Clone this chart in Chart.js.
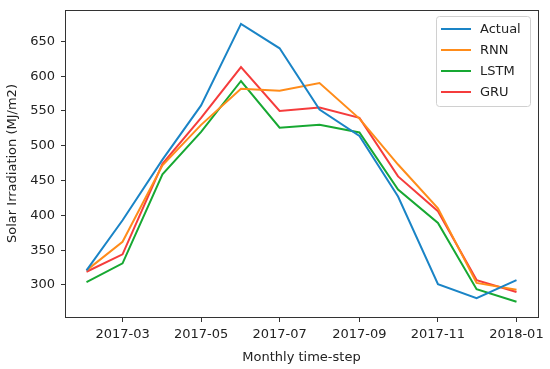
<!DOCTYPE html>
<html>
<head>
<meta charset="utf-8">
<script src="https://cdn.jsdelivr.net/npm/chart.js@4"></script>
<style>
html,body{margin:0;padding:0;background:#fff;}
#wrap{width:550px;height:369px;position:relative;}
</style>
</head>
<body>
<div id="wrap"><canvas id="c" width="550" height="369"></canvas></div>
<script>
const months = ['2017-02-01','2017-03-01','2017-04-01','2017-05-01','2017-06-01','2017-07-01','2017-08-01','2017-09-01','2017-10-01','2017-11-01','2017-12-01','2018-01-01'];
const actual = [321, 393, 480, 558, 675, 640, 552, 514, 427, 301, 281, 307];
const rnn    = [321, 362, 472, 530, 582, 579, 590, 539, 473, 410, 303, 293];
const lstm   = [304, 331, 459, 520, 593, 526, 530, 519, 437, 389, 294, 276];
const gru    = [319, 344, 474, 540, 613, 550, 555, 540, 456, 406, 307, 290];
const tickDates = ['2017-03-01','2017-05-01','2017-07-01','2017-09-01','2017-11-01','2018-01-01'];
const yTicks = [300, 350, 400, 450, 500, 550, 600, 650];

const DAY = 86400000;
const toDay = s => Date.parse(s + 'T00:00:00Z') / DAY;
const xs = months.map(toDay);
const span = xs[xs.length-1] - xs[0];
const mk = arr => arr.map((v,i) => ({x: xs[i], y: v}));

const font = "'DejaVu Sans', sans-serif";

const frame = {
  id: 'frame',
  afterDraw(chart) {
    const {ctx, chartArea: a} = chart;
    ctx.save();
    ctx.strokeStyle = '#333';
    ctx.lineWidth = 1;
    ctx.strokeRect(a.left + 0.5, a.top + 0.5, a.right - a.left, a.bottom - a.top);
    // legend
    const bx = 436.5, by = 16.5, bw = 94, bh = 90, r = 3;
    ctx.fillStyle = 'rgba(255,255,255,0.8)';
    ctx.strokeStyle = '#d0d0d0';
    ctx.beginPath();
    ctx.moveTo(bx + r, by);
    ctx.arcTo(bx + bw, by, bx + bw, by + bh, r);
    ctx.arcTo(bx + bw, by + bh, bx, by + bh, r);
    ctx.arcTo(bx, by + bh, bx, by, r);
    ctx.arcTo(bx, by, bx + bw, by, r);
    ctx.closePath();
    ctx.fill();
    ctx.stroke();
    ctx.font = '13px ' + font;
    ctx.textBaseline = 'middle';
    ctx.textAlign = 'left';
    chart.data.datasets.forEach((ds, i) => {
      const y = 29 + i * 21;
      ctx.strokeStyle = ds.borderColor;
      ctx.lineWidth = 2;
      ctx.beginPath();
      ctx.moveTo(441, y);
      ctx.lineTo(471, y);
      ctx.stroke();
      ctx.fillStyle = '#222';
      ctx.fillText(ds.label, 480, y + 0.5);
    });
    ctx.restore();
  }
};

new Chart(document.getElementById('c'), {
  type: 'line',
  data: {
    datasets: [
      {label: 'Actual', data: mk(actual), borderColor: '#1a84c6'},
      {label: 'RNN', data: mk(rnn), borderColor: '#ff8c1a'},
      {label: 'LSTM', data: mk(lstm), borderColor: '#17a832'},
      {label: 'GRU', data: mk(gru), borderColor: '#f53c3c'}
    ]
  },
  options: {
    responsive: false,
    animation: false,
    devicePixelRatio: 1,
    layout: {padding: {left: 5, top: 10, right: 12, bottom: 4}},
    elements: {
      line: {borderWidth: 2, tension: 0, fill: false},
      point: {radius: 0}
    },
    plugins: {legend: {display: false}, tooltip: {enabled: false}},
    scales: {
      x: {
        type: 'linear',
        min: xs[0] - span * 0.05,
        max: xs[xs.length-1] + span * 0.05,
        afterBuildTicks: s => { s.ticks = tickDates.map(d => ({value: toDay(d)})); },
        afterFit: s => { s.height = 48; s.paddingLeft = 0; s.paddingRight = 0; },
        ticks: {
          color: '#222',
          font: {family: font, size: 13},
          padding: 5,
          maxRotation: 0,
          autoSkip: false,
          callback: v => {
            const d = new Date(v * DAY);
            return d.getUTCFullYear() + '-' + String(d.getUTCMonth() + 1).padStart(2, '0');
          }
        },
        grid: {display: true, drawOnChartArea: false, drawTicks: true, tickLength: 5, color: '#333'},
        border: {display: true, color: '#333'},
        title: {display: true, text: 'Monthly time-step', color: '#222', font: {family: font, size: 13}, padding: {top: 3, bottom: 0}}
      },
      y: {
        type: 'linear',
        min: 254,
        max: 695,
        afterBuildTicks: s => { s.ticks = yTicks.map(v => ({value: v})); },
        afterFit: s => { s.width = 60; s.paddingTop = 0; s.paddingBottom = 0; },
        ticks: {
          color: '#222',
          font: {family: font, size: 13},
          padding: 6
        },
        grid: {display: true, drawOnChartArea: false, drawTicks: true, tickLength: 4, color: '#333'},
        border: {display: true, color: '#333'},
        title: {display: true, text: 'Solar Irradiation (MJ/m2)', color: '#222', font: {family: font, size: 13}, padding: {top: 0, bottom: 4}}
      }
    }
  },
  plugins: [frame]
});
</script>
</body>
</html>
